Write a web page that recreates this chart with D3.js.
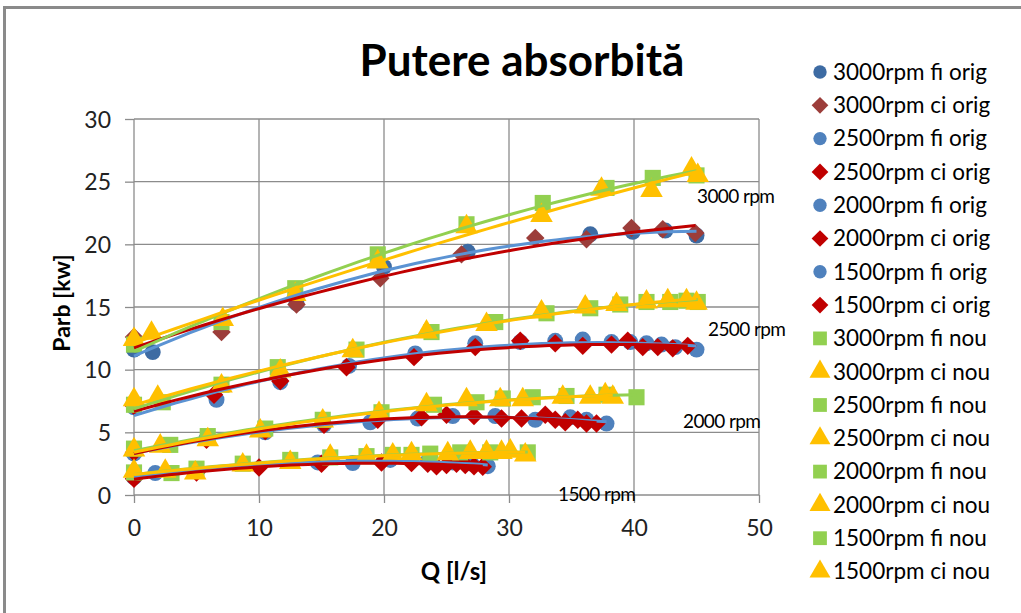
<!DOCTYPE html>
<html>
<head>
  <meta charset="utf-8">
  <title>Putere absorbita</title>
  <script src="https://cdn.jsdelivr.net/npm/d3@7"></script>
  <style>
    body { margin: 0; background: #fff; }
    text { font-family: Lato, "Open Sans", sans-serif; fill: #000; }
    .grid line { stroke: #8c8c8c; stroke-width: 1.3px; }
    .axis path { display: none; }
    .axis line { stroke: #8c8c8c; stroke-width: 1.3px; }
    .axis text { font-size: 23px; fill: #222; }
  </style>
</head>
<body>
  <svg width="1021" height="613"></svg>
  <script>

    // tick values
    const xTicks = [0, 10, 20, 30, 40, 50]
    const yTicks = [0, 5, 10, 15, 20, 25, 30]

    // series names (legend order)
    const names = [
      "3000rpm fi orig", "3000rpm ci orig", "2500rpm fi orig", "2500rpm ci orig",
      "2000rpm fi orig", "2000rpm ci orig", "1500rpm fi orig", "1500rpm ci orig",
      "3000rpm fi nou", "3000rpm ci nou", "2500rpm fi nou", "2500rpm ci nou",
      "2000rpm fi nou", "2000rpm ci nou", "1500rpm fi nou", "1500rpm ci nou"
    ]

    // Q [l/s] and Parb [kW]
    const q3000fiOrig = [0, 1.5, 13, 20, 26.7, 36.5, 39.9, 42.5, 45]
    const p3000fiOrig = [11.6, 11.4, 15.3, 18.2, 19.4, 20.8, 21.0, 21.1, 20.7]
    const q3000ciOrig = [0, 7, 13, 19.7, 26.2, 32.1, 36.2, 39.8, 42.3, 44.9]
    const p3000ciOrig = [12.6, 13.0, 15.2, 17.3, 19.2, 20.5, 20.4, 21.3, 21.2, 20.9]

    const q2500fiOrig = [0, 6.6, 11.7, 17.2, 22.5, 27.3, 30.9, 33.7, 35.9, 38.2, 39.7, 41, 42.2, 43.3, 45]
    const p2500fiOrig = [7.0, 7.6, 9.0, 10.3, 11.3, 12.1, 12.2, 12.3, 12.4, 12.2, 12.2, 12.1, 12.0, 11.8, 11.6]
    const q2500ciOrig = [0, 6.4, 11.7, 17.0, 22.4, 27.3, 30.9, 33.7, 35.9, 38.2, 39.5, 40.7, 41.9, 43.1, 44.3]
    const p2500ciOrig = [7.1, 8.0, 9.1, 10.2, 11.0, 11.8, 12.3, 12.1, 11.9, 12.0, 12.3, 11.8, 11.8, 11.7, 11.9]

    const q2000fiOrig = [0, 5.8, 10.5, 15.2, 18.9, 22.7, 25.5, 28.9, 32.1, 34.9, 36.2, 37.8]
    const p2000fiOrig = [3.3, 4.5, 5.0, 5.6, 5.8, 6.1, 6.3, 6.3, 6.0, 6.2, 6.0, 5.7]
    const q2000ciOrig = [0, 5.8, 10.5, 15.2, 19.5, 23.0, 25.0, 27.2, 29.4, 31.0, 32.9, 33.7, 34.5, 35.5, 36.2, 37.0]
    const p2000ciOrig = [3.4, 4.4, 5.1, 5.6, 6.0, 6.2, 6.4, 6.3, 6.1, 6.1, 6.4, 6.0, 5.8, 6.0, 5.7, 5.7]

    const q1500fiOrig = [0, 1.7, 14.7, 17.5, 20.5, 23.5, 25.5, 27.0, 28.3]
    const p1500fiOrig = [1.4, 1.75, 2.6, 2.55, 2.8, 2.7, 2.6, 2.5, 2.3]
    const q1500ciOrig = [0, 5.0, 10, 15, 19.8, 22.2, 23.5, 24.2, 25.0, 25.8, 26.5, 27.2, 27.9]
    const p1500ciOrig = [1.3, 1.8, 2.2, 2.5, 2.6, 2.55, 2.5, 2.3, 2.4, 2.5, 2.4, 2.3, 2.25]

    const q3000fiNou = [0, 7, 12.9, 19.5, 26.6, 32.7, 37.8, 41.5, 45]
    const p3000fiNou = [12.0, 13.8, 16.5, 19.2, 21.6, 23.3, 24.5, 25.3, 25.5]
    const q3000ciNou = [0, 1.4, 7.1, 12.9, 19.5, 26.6, 32.6, 37.4, 41.4, 44.6, 45.1]
    const p3000ciNou = [12.4, 12.9, 14.0, 16.0, 18.6, 21.4, 22.3, 24.4, 24.3, 26.0, 25.5]

    const q2500fiNou = [0, 2.3, 7.0, 11.5, 17.8, 23.8, 28.9, 33.0, 36.5, 38.9, 41, 42.9, 44.2, 45.1]
    const p2500fiNou = [7.2, 7.4, 8.8, 10.2, 11.6, 13.0, 13.8, 14.5, 14.9, 15.2, 15.4, 15.4, 15.5, 15.4]
    const q2500ciNou = [0, 1.9, 7.0, 11.7, 17.5, 23.4, 28.2, 32.6, 36.1, 38.6, 41, 42.7, 44.2, 45]
    const p2500ciNou = [7.6, 7.8, 8.7, 9.9, 11.5, 13.0, 13.6, 14.6, 15.0, 15.2, 15.4, 15.5, 15.5, 15.3]

    const q2000fiNou = [0, 2.9, 5.9, 10.5, 15.1, 19.8, 24.0, 27.4, 29.5, 31.9, 34.6, 37.8, 40.2]
    const p2000fiNou = [3.7, 4.0, 4.7, 5.3, 6.0, 6.6, 7.2, 7.4, 7.7, 7.8, 7.9, 8.0, 7.8]
    const q2000ciNou = [0, 2.1, 5.9, 10.1, 15.1, 19.6, 23.4, 26.6, 29.3, 31.1, 34.3, 36.5, 37.7, 38.3]
    const p2000ciNou = [3.6, 3.9, 4.4, 5.1, 5.9, 6.5, 7.2, 7.6, 7.6, 7.6, 7.8, 7.8, 8.0, 7.8]

    const q1500fiNou = [0, 3.0, 5.0, 8.7, 12.5, 15.7, 18.6, 20.7, 22.2, 23.7, 26.1, 28.5, 31.5]
    const p1500fiNou = [1.8, 1.75, 2.1, 2.5, 2.8, 3.0, 3.1, 3.2, 3.2, 3.3, 3.4, 3.4, 3.4]
    const q1500ciNou = [0, 2.5, 4.9, 8.7, 12.5, 15.7, 18.6, 20.7, 22.2, 25.1, 26.9, 28.2, 29.4, 30.1, 31.3]
    const p1500ciNou = [1.9, 1.9, 1.75, 2.4, 2.6, 3.1, 3.1, 3.2, 3.3, 3.3, 3.4, 3.4, 3.4, 3.5, 3.2]

    const rpmLabels = ["3000 rpm", "2500 rpm", "2000 rpm", "1500 rpm"]

    const qs = [q3000fiOrig, q3000ciOrig, q2500fiOrig, q2500ciOrig, q2000fiOrig, q2000ciOrig, q1500fiOrig, q1500ciOrig,
                q3000fiNou, q3000ciNou, q2500fiNou, q2500ciNou, q2000fiNou, q2000ciNou, q1500fiNou, q1500ciNou]
    const ps = [p3000fiOrig, p3000ciOrig, p2500fiOrig, p2500ciOrig, p2000fiOrig, p2000ciOrig, p1500fiOrig, p1500ciOrig,
                p3000fiNou, p3000ciNou, p2500fiNou, p2500ciNou, p2000fiNou, p2000ciNou, p1500fiNou, p1500ciNou]

    // diamond = square turned 45 degrees
    const symDiamond = {
      draw(ctx, size) {
        const r = Math.sqrt(size / 2)
        ctx.moveTo(0, -r); ctx.lineTo(r, 0); ctx.lineTo(0, r); ctx.lineTo(-r, 0); ctx.closePath()
      }
    }

    // marker look per series
    function style(i) {
      if (i === 0) return { sym: d3.symbolCircle, size: 200, fill: "#3d6ba3", line: "#5b93d3" }
      if (i === 1) return { sym: symDiamond, size: 170, fill: "#9c3d3a", line: "#c00000" }
      if (i < 8) return i % 2 === 0
        ? { sym: d3.symbolCircle, size: 200, fill: "#4f81bd", line: "#5b93d3" }
        : { sym: symDiamond, size: 170, fill: "#c00000", line: "#c00000" }
      return i % 2 === 0
        ? { sym: d3.symbolSquare, size: 260, fill: "#92d050", line: "#92d050" }
        : { sym: d3.symbolTriangle, size: 220, fill: "#ffc000", line: "#ffc000" }
    }

    // order-2 polynomial trend line, least squares
    function quadFit(x, y) {
      let s = [0, 0, 0, 0, 0], t = [0, 0, 0]
      x.forEach((v, k) => {
        let p = 1
        for (let j = 0; j < 5; j++) { s[j] += p; if (j < 3) t[j] += p * y[k]; p *= v }
      })
      const A = [[s[0], s[1], s[2], t[0]], [s[1], s[2], s[3], t[1]], [s[2], s[3], s[4], t[2]]]
      for (let c = 0; c < 3; c++) {
        for (let r = c + 1; r < 3; r++) {
          const f = A[r][c] / A[c][c]
          for (let k = c; k < 4; k++) A[r][k] -= f * A[c][k]
        }
      }
      const b = [0, 0, 0]
      for (let r = 2; r >= 0; r--) {
        let v = A[r][3]
        for (let k = r + 1; k < 3; k++) v -= A[r][k] * b[k]
        b[r] = v / A[r][r]
      }
      return q => b[0] + b[1] * q + b[2] * q * q
    }

    const svg = d3.select("svg")

    // outer frame
    svg.append("rect").attr("x", 4.5).attr("y", 7.5).attr("width", 1030).attr("height", 620)
      .attr("fill", "none").attr("stroke", "#8a8a8a").attr("stroke-width", 3)

    const x = d3.scaleLinear().domain([0, 50]).range([134, 759])
    const y = d3.scaleLinear().domain([0, 30]).range([495, 119])

    // grid
    svg.append("g").attr("class", "grid").selectAll("line").data(yTicks).enter().append("line")
      .attr("x1", x(0)).attr("x2", x(50)).attr("y1", d => y(d)).attr("y2", d => y(d))
    svg.append("g").attr("class", "grid").selectAll("line").data(xTicks).enter().append("line")
      .attr("x1", d => x(d)).attr("x2", d => x(d)).attr("y1", y(30)).attr("y2", y(0))

    const xAxis = svg.append("g").attr("class", "axis").attr("transform", `translate(0,${y(0)})`)
      .call(d3.axisBottom(x).tickValues(xTicks).tickSize(8).tickPadding(15))
    const yAxis = svg.append("g").attr("class", "axis").attr("transform", `translate(${x(0)},0)`)
      .call(d3.axisLeft(y).tickValues(yTicks).tickSize(9).tickPadding(14))
    xAxis.selectAll("text").attr("dy", "0.8em")
    yAxis.selectAll("text").attr("dy", "0.35em")

    // markers
    const marks = svg.append("g")
    qs.forEach((qa, i) => {
      const st = style(i)
      marks.append("g").selectAll("path").data(qa.map((q, k) => [q, ps[i][k]])).enter().append("path")
        .attr("d", d3.symbol(st.sym, st.size))
        .attr("transform", d => `translate(${x(d[0])},${y(d[1])})`)
        .attr("fill", st.fill)
    })

    // trend lines
    const lineGen = d3.line().x(d => x(d[0])).y(d => y(d[1]))
    qs.forEach((qa, i) => {
      const st = style(i)
      const f = quadFit(qa, ps[i])
      const lo = d3.min(qa), hi = d3.max(qa)
      const pts = d3.range(0, 41).map(k => { const q = lo + (hi - lo) * k / 40; return [q, f(q)] })
      svg.append("path").datum(pts).attr("d", lineGen)
        .attr("fill", "none").attr("stroke", st.line).attr("stroke-width", 3)
    })

    // rpm labels
    const rpmPos = [[697, 203], [708, 336], [683, 428], [558, 501]]
    svg.selectAll(".rpm").data(rpmLabels).enter().append("text")
      .attr("x", (d, i) => rpmPos[i][0]).attr("y", (d, i) => rpmPos[i][1])
      .attr("font-size", 19).attr("letter-spacing", -0.6).text(d => d)

    // title and axis titles
    svg.append("text").attr("x", 522).attr("y", 76).attr("text-anchor", "middle")
      .attr("font-size", 44).attr("font-weight", "bold").text("Putere absorbită")
    svg.append("text").attr("transform", "translate(70,303) rotate(-90)").attr("text-anchor", "middle")
      .attr("font-size", 23).attr("font-weight", "bold").text("Parb [kw]")
    svg.append("text").attr("x", 454).attr("y", 580).attr("text-anchor", "middle")
      .attr("font-size", 24).attr("font-weight", "bold").text("Q [l/s]")

    // legend
    const leg = svg.append("g").selectAll("g").data(names).enter().append("g")
      .attr("transform", (d, i) => `translate(820,${72 + i * 33.3})`)
    leg.append("path")
      .attr("d", (d, i) => d3.symbol(style(i).sym, i < 8 ? 140 : 190)())
      .attr("fill", (d, i) => style(i).fill)
    leg.append("text").attr("x", 13).attr("dy", "0.35em").attr("font-size", 22.5).text(d => d)

  </script>
</body>
</html>
